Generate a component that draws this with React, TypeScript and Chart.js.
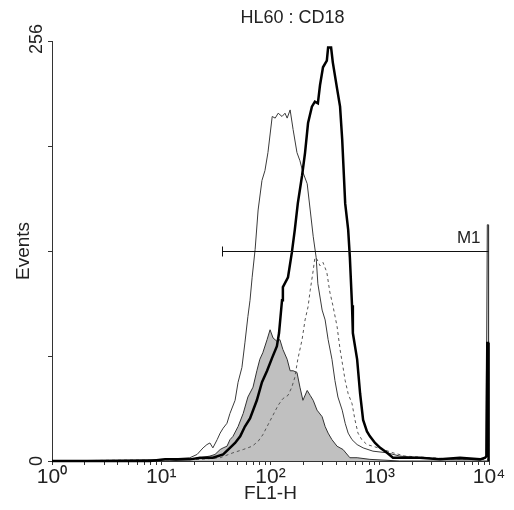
import { useEffect, useRef } from 'react';
import { Chart, registerables } from 'chart.js';

Chart.register(...registerables);

const chartTitle = 'HL60 : CD18';
const xAxisTitle = 'FL1-H';
const yAxisTitle = 'Events';
const channelMax = 1024;
const countMax = 256;
const channelsPerDecade = 256;
const xDecadeChannels = [0, 256, 512, 768, 1024];
const xDecadeLabels = ['10⁰', '10¹', '10²', '10³', '10⁴'];
const yTickValues = [0, 64, 128, 192, 256];
const yTickLabels = ['0', '', '', '', '256'];

// Thick black histogram
const thickChannels = [0, 230, 265, 323, 347, 377, 401, 417, 429, 441, 452, 464, 480, 492, 504, 516, 527, 532, 539, 541, 553, 562, 569, 576, 586, 593, 600, 609, 616, 623, 628, 635, 644, 647, 654, 658, 668, 675, 680, 687, 694, 698, 703, 705, 715, 722, 729, 738, 745, 757, 769, 785, 799, 823, 862, 909, 956, 1003, 1015, 1018, 1020, 1022, 1023];
const thickCounts = [0, 0, 1, 1, 2, 2, 4, 8, 11, 15, 21, 26, 37, 48, 55, 63, 70, 78, 98, 106, 112, 127, 141, 157, 174, 188, 206, 216, 219, 218, 229, 240, 244, 252, 252, 243, 227, 216, 196, 157, 141, 124, 95, 78, 62, 41, 25, 18, 15, 11, 8, 5, 2, 2, 2, 1, 2, 1, 2, 3, 72, 72, 0];

// Thin solid histogram
const thinChannels = [0, 265, 323, 340, 354, 363, 370, 377, 387, 394, 401, 410, 417, 429, 436, 445, 452, 459, 464, 469, 476, 483, 492, 499, 506, 516, 523, 530, 539, 546, 551, 558, 565, 574, 581, 588, 598, 605, 612, 619, 623, 633, 640, 647, 656, 663, 670, 680, 687, 694, 703, 715, 729, 752, 785, 815, 862, 933, 1003, 1017, 1020, 1022, 1023];
const thinCounts = [0, 1, 2, 4, 8, 10, 11, 8, 13, 17, 20, 23, 29, 37, 48, 57, 72, 88, 98, 112, 129, 153, 171, 177, 188, 210, 209, 212, 210, 212, 209, 214, 202, 188, 183, 176, 169, 153, 137, 124, 108, 92, 86, 74, 62, 49, 39, 31, 23, 17, 13, 10, 8, 6, 5, 3, 2, 1, 1, 2, 144, 144, 0];

// Dashed histogram
const dashedChannels = [0, 323, 347, 394, 424, 448, 469, 483, 494, 506, 518, 530, 541, 553, 562, 569, 576, 586, 593, 600, 605, 612, 616, 621, 628, 635, 644, 651, 658, 668, 675, 682, 687, 694, 703, 710, 717, 726, 738, 752, 776, 799, 827, 886, 956, 1022];
const dashedCounts = [0, 1, 1, 2, 5, 7, 9, 12, 16, 22, 28, 34, 38, 40, 45, 51, 62, 74, 86, 94, 104, 116, 124, 123, 119, 121, 115, 103, 95, 82, 68, 57, 49, 41, 35, 25, 17, 13, 10, 9, 7, 5, 3, 2, 1, 1];

// Filled grey (control) histogram
const controlChannels = [0, 276, 323, 347, 370, 382, 394, 401, 410, 417, 424, 436, 448, 459, 471, 480, 487, 494, 504, 511, 518, 527, 534, 541, 551, 558, 565, 574, 581, 588, 598, 605, 612, 621, 633, 640, 647, 656, 668, 682, 698, 715, 745, 815, 1024];
const controlCounts = [0, 0, 1, 2, 3, 4, 7, 8, 9, 13, 15, 21, 29, 39, 45, 55, 62, 66, 74, 80, 75, 73, 74, 68, 62, 55, 55, 54, 45, 37, 43, 40, 37, 31, 27, 21, 17, 13, 9, 7, 2, 2, 1, 0, 0];

// Marker M1
const markerName = 'M1';
const markerStart = 398;
const markerEnd = 1023;
const markerLevel = 128;

const FONT = '"Liberation Sans", Arial, sans-serif';

const toPoints = (xs: number[], ys: number[]) => xs.map((x, i) => ({ x, y: ys[i] }));

const xTickValues: number[] = (() => {
  const vals: number[] = [];
  for (let d = 0; d < xDecadeChannels.length - 1; d++) {
    for (let k = 1; k <= 9; k++) vals.push(xDecadeChannels[d] + channelsPerDecade * Math.log10(k));
  }
  vals.push(xDecadeChannels[xDecadeChannels.length - 1]);
  return vals;
})();

const overlayPlugin = {
  id: 'overlay',
  afterDatasetsDraw(chart: any) {
    const { ctx, chartArea, scales } = chart;
    const x = scales.x;
    const y = scales.y;
    ctx.save();
    // marker
    const x0 = Math.round(x.getPixelForValue(markerStart)) + 0.5;
    const x1 = x.getPixelForValue(markerEnd);
    const yy = Math.round(y.getPixelForValue(markerLevel)) + 0.5;
    ctx.strokeStyle = '#111';
    ctx.lineWidth = 1;
    ctx.beginPath();
    ctx.moveTo(x0, yy);
    ctx.lineTo(x1, yy);
    ctx.moveTo(x0, yy - 5);
    ctx.lineTo(x0, yy + 5);
    ctx.stroke();
    ctx.fillStyle = '#222';
    ctx.font = `17px ${FONT}`;
    ctx.textAlign = 'right';
    ctx.textBaseline = 'alphabetic';
    ctx.fillText(markerName, x1 - 8, yy - 9);

    // title
    ctx.font = `18px ${FONT}`;
    ctx.textAlign = 'center';
    ctx.textBaseline = 'middle';
    ctx.fillText(chartTitle, (chartArea.left + chartArea.right) / 2 + 22, 18);

    // y tick labels (rotated)
    ctx.font = `18px ${FONT}`;
    yTickValues.forEach((v, i) => {
      const label = yTickLabels[i];
      if (!label) return;
      ctx.save();
      ctx.translate(chartArea.left - 15, y.getPixelForValue(v) - (i === yTickValues.length - 1 ? 2 : 0));
      ctx.rotate(-Math.PI / 2);
      ctx.textAlign = 'center';
      ctx.textBaseline = 'middle';
      ctx.fillText(label, 0, 0);
      ctx.restore();
    });
    ctx.restore();
  },
};

export default function App() {
  const canvasRef = useRef<HTMLCanvasElement | null>(null);

  useEffect(() => {
    const canvas = canvasRef.current;
    if (!canvas) return;
    const chart = new Chart(canvas, {
      type: 'line',
      data: {
        datasets: [
          {
            label: 'thick',
            data: toPoints(thickChannels, thickCounts),
            borderColor: '#000',
            borderWidth: 2.5,
            pointRadius: 0,
            fill: false,
            clip: false as any,
          },
          {
            label: 'thin',
            data: toPoints(thinChannels, thinCounts),
            borderColor: '#3a3a3a',
            borderWidth: 1,
            pointRadius: 0,
            fill: false,
            clip: false as any,
          },
          {
            label: 'dashed',
            data: toPoints(dashedChannels, dashedCounts),
            borderColor: '#555',
            borderWidth: 1,
            borderDash: [3, 3],
            pointRadius: 0,
            fill: false,
            clip: false as any,
          },
          {
            label: 'control',
            data: toPoints(controlChannels, controlCounts),
            borderColor: '#333',
            borderWidth: 1,
            backgroundColor: '#c0c0c0',
            pointRadius: 0,
            fill: 'origin',
            clip: false as any,
          },
        ],
      },
      options: {
        animation: false,
        responsive: false,
        events: [],
        layout: { padding: { left: 0, top: 41, right: 25, bottom: 0 } },
        plugins: {
          legend: { display: false },
          title: { display: false },
          tooltip: { enabled: false },
        },
        scales: {
          x: {
            type: 'linear',
            min: 0,
            max: channelMax,
            afterBuildTicks: (scale: any) => {
              scale.ticks = xTickValues.map((v) => ({ value: v }));
            },
            afterFit: (scale: any) => {
              scale.height = 49;
            },
            ticks: {
              autoSkip: false,
              maxRotation: 0,
              minRotation: 0,
              padding: 0,
              color: '#222',
              font: { family: FONT, size: 21 },
              callback: (value: any) => {
                const idx = xDecadeChannels.findIndex((c) => Math.abs(c - Number(value)) < 0.01);
                return idx >= 0 ? xDecadeLabels[idx] : '';
              },
            },
            grid: {
              display: true,
              drawOnChartArea: false,
              drawTicks: true,
              tickLength: 4,
              tickColor: '#333',
              color: '#333',
            },
            border: { display: true, color: '#333', width: 1 },
            title: {
              display: true,
              text: xAxisTitle,
              color: '#222',
              font: { family: FONT, size: 19 },
              padding: { top: 0, bottom: 5 },
            },
          },
          y: {
            type: 'linear',
            min: 0,
            max: countMax,
            afterBuildTicks: (scale: any) => {
              scale.ticks = yTickValues.map((v) => ({ value: v }));
            },
            afterFit: (scale: any) => {
              scale.width = 52;
            },
            ticks: { display: false },
            grid: {
              display: true,
              drawOnChartArea: false,
              drawTicks: true,
              tickLength: 4,
              tickColor: '#333',
              color: '#333',
            },
            border: { display: true, color: '#333', width: 1 },
            title: {
              display: true,
              text: yAxisTitle,
              color: '#222',
              font: { family: FONT, size: 19 },
              padding: { top: 12, bottom: 0 },
            },
          },
        },
      },
      plugins: [overlayPlugin],
    });
    return () => chart.destroy();
  }, []);

  return (
    <div style={{ position: 'fixed', left: 0, top: 0, width: 514, height: 510, background: '#fff' }}>
      <canvas ref={canvasRef} width={514} height={510} style={{ display: 'block' }} />
    </div>
  );
}
